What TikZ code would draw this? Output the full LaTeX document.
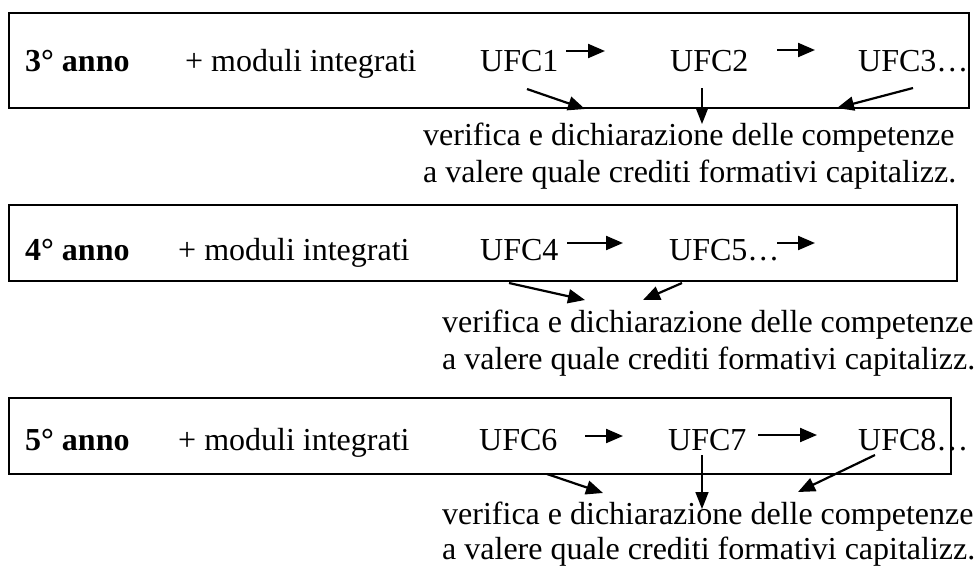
\documentclass[tikz,border=0pt]{standalone}
\usepackage{fontspec}
\setmainfont{Liberation Serif}
\usetikzlibrary{arrows.meta}
\begin{document}
\begin{tikzpicture}[x=1pt,y=-1pt,
  txt/.style={anchor=base west,inner sep=0pt,font=\fontsize{32}{38}\selectfont},
  frame/.style={draw,line width=1.8pt,anchor=north west,inner sep=0pt,outer sep=0pt},
  arr/.style={line width=2.2pt,-{Triangle[length=17pt,width=14pt]}},
  varr/.style={line width=1.6pt,-{Triangle[length=17pt,width=13pt]}}]
\useasboundingbox (0,0) rectangle (975,566);
% ---------- 3rd year ----------
\node[frame,minimum width=960pt,minimum height=95pt] (box1) at (9,13) {};
\node[txt] (y3) at (25,71) {\textbf{3° anno}};
\node[txt] (m3) at (185,71) {+ moduli integrati};
\node[txt] (u1) at (480,71) {UFC1};
\node[txt] (u2) at (670,71) {UFC2};
\node[txt] (u3) at (858,71) {UFC3…};
\node[txt] (v1) at (423,145) {verifica e dichiarazione delle competenze};
\node[txt] (c1) at (423,182) {a valere quale crediti formativi capitalizz.};
\coordinate (r1a) at (566,51); \coordinate (r1b) at (605,51);
\coordinate (r2a) at (777,50); \coordinate (r2b) at (815,50);
\coordinate (d1a) at (527,89); \coordinate (d1b) at (585,109);
\coordinate (d2a) at (702,88); \coordinate (d2b) at (702,124);
\coordinate (d3a) at (913,88); \coordinate (d3b) at (837,108);
\draw[arr] (r1a) -- (r1b);
\draw[arr] (r2a) -- (r2b);
\draw[arr] (d1a) -- (d1b);
\draw[varr] (d2a) -- (d2b);
\draw[arr] (d3a) -- (d3b);
% ---------- 4th year ----------
\node[frame,minimum width=948pt,minimum height=76pt] (box2) at (9,205) {};
\node[txt] (y4) at (25,260) {\textbf{4° anno}};
\node[txt] (m4) at (178,260) {+ moduli integrati};
\node[txt] (u4) at (480,260) {UFC4};
\node[txt] (u5) at (669,260) {UFC5…};
\node[txt] (v2) at (442,332) {verifica e dichiarazione delle competenze};
\node[txt] (c2) at (442,369) {a valere quale crediti formativi capitalizz.};
\coordinate (r4a) at (567,243); \coordinate (r4b) at (623,243);
\coordinate (r5a) at (777,243); \coordinate (r5b) at (815,243);
\coordinate (d4a) at (509,283); \coordinate (d4b) at (585,300);
\coordinate (d5a) at (682,283); \coordinate (d5b) at (643,300);
\draw[arr] (r4a) -- (r4b);
\draw[arr] (r5a) -- (r5b);
\draw[arr] (d4a) -- (d4b);
\draw[arr] (d5a) -- (d5b);
% ---------- 5th year ----------
\node[frame,minimum width=942pt,minimum height=76pt] (box3) at (9,398) {};
\node[txt] (y5) at (25,450) {\textbf{5° anno}};
\node[txt] (m5) at (178,450) {+ moduli integrati};
\node[txt] (u6) at (479,450) {UFC6};
\node[txt] (u7) at (668,450) {UFC7};
\node[txt] (u8) at (858,450) {UFC8…};
\node[txt] (v3) at (442,524) {verifica e dichiarazione delle competenze};
\node[txt] (c3) at (442,559) {a valere quale crediti formativi capitalizz.};
\coordinate (r6a) at (585,436); \coordinate (r6b) at (623,436);
\coordinate (r7a) at (758,435); \coordinate (r7b) at (817,435);
\coordinate (d6a) at (547,474); \coordinate (d6b) at (603,493);
\coordinate (d7a) at (702,455); \coordinate (d7b) at (702,509);
\coordinate (d8a) at (875,455); \coordinate (d8b) at (798,492);
\draw[arr] (r6a) -- (r6b);
\draw[arr] (r7a) -- (r7b);
\draw[arr] (d6a) -- (d6b);
\draw[varr] (d7a) -- (d7b);
\draw[arr] (d8a) -- (d8b);
\end{tikzpicture}
\end{document}
